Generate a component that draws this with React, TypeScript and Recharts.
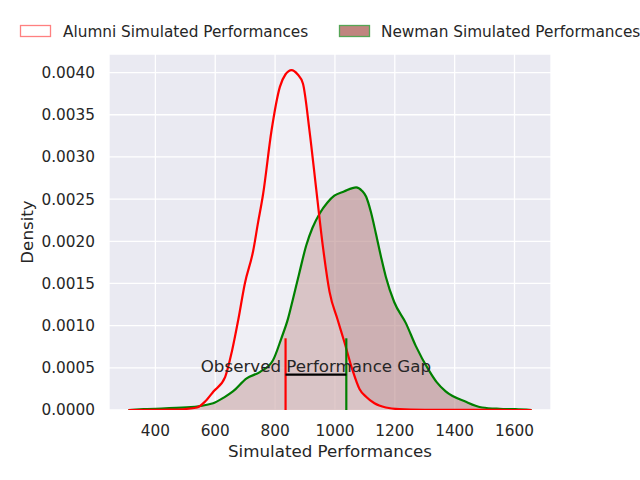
import {
  ComposedChart,
  Area,
  XAxis,
  YAxis,
  CartesianGrid,
  ReferenceLine,
  ReferenceDot,
} from "recharts";

// KDE curves
const alumniX = [
  310, 400, 450, 500, 539, 566, 594, 633, 656, 677, 699, 727, 742, 760, 788,
  816, 835, 855, 875, 893, 915, 938, 960, 982, 1009, 1032, 1059, 1082, 1104,
  1132, 1170, 1215, 1300, 1450, 1657,
];
const alumniDensity = [
  0, 0.000002, 0.000005, 0.000012, 0.00003, 0.0001, 0.00022, 0.00039, 0.0007,
  0.00107, 0.0015, 0.00189, 0.0022, 0.00256, 0.00331, 0.00383, 0.00398,
  0.00403, 0.00398, 0.00387, 0.00331, 0.0026, 0.00193, 0.0014, 0.00107, 0.0008,
  0.00047, 0.00025, 0.000157, 0.00008, 0.00003, 0.00001, 0.000003, 0.000001, 0,
];

const newmanX = [
  310, 361, 505, 593, 630, 659, 705, 749, 793, 821, 843, 860, 880, 904, 925,
  949, 975, 998, 1030, 1071, 1090, 1104, 1120, 1137, 1155, 1170, 1198, 1237,
  1270, 1314, 1340, 1370, 1436, 1492, 1550, 1603, 1657,
];
const newmanDensity = [
  0, 0.00001, 0.00003, 0.00008, 0.00015, 0.00022, 0.000375, 0.00045, 0.00059,
  0.00085, 0.00108, 0.00132, 0.00161, 0.00195, 0.00216, 0.00233, 0.00246,
  0.00254, 0.00259, 0.00264, 0.0026, 0.00253, 0.00235, 0.00209, 0.0018,
  0.00158, 0.00128, 0.00103, 0.00076, 0.00047, 0.00033, 0.00022, 0.0001,
  0.00003, 0.000015, 0.00001, 0,
];

const xTicks = [400, 600, 800, 1000, 1200, 1400, 1600];
const yTicks = [
  0, 0.0005, 0.001, 0.0015, 0.002, 0.0025, 0.003, 0.0035, 0.004,
];

// observed gap annotation
const gapStart = 835;
const gapEnd = 1038;
const gapBarTop = 0.00085;
const gapLineY = 0.00042;
const gapLabel = "Observed Performance Gap";
const gapLabelY = 0.00045;

const alumniData = alumniX.map((x, i) => ({ x, density: alumniDensity[i] }));
const newmanData = newmanX.map((x, i) => ({ x, density: newmanDensity[i] }));

const TEXT = "#262626";
const RED = "#ff0000";
const GREEN = "#008000";

export default function App() {
  return (
    <div
      style={{
        position: "absolute",
        left: 0,
        top: 0,
        width: 640,
        height: 480,
        background: "#fff",
        fontFamily: "DejaVu Sans",
      }}
    >
      <ComposedChart
        width={640}
        height={480}
        margin={{ top: 54, right: 89, bottom: 0, left: 9 }}
      >
        <CartesianGrid fill="#eaeaf2" stroke="#ffffff" strokeWidth={1.3} />
        <XAxis
          dataKey="x"
          type="number"
          domain={[245, 1722]}
          ticks={xTicks}
          allowDataOverflow
          height={70}
          axisLine={false}
          tickLine={false}
          tickSize={0}
          tickMargin={15}
          tick={{ fill: TEXT, fontSize: 15.3 }}
          label={() => (
            <text x={330} y={457} textAnchor="middle" fill={TEXT} fontSize={16.7}>
              Simulated Performances
            </text>
          )}
        />
        <YAxis
          type="number"
          domain={[0, 0.00422]}
          ticks={yTicks}
          allowDataOverflow
          width={100}
          axisLine={false}
          tickLine={false}
          tickSize={0}
          tickMargin={14}
          tick={{ fill: TEXT, fontSize: 15.3 }}
          tickFormatter={(v: number) => v.toFixed(4)}
          label={() => (
            <text
              x={33}
              y={232}
              transform="rotate(-90 33 232)"
              textAnchor="middle"
              fill={TEXT}
              fontSize={16.7}
            >
              Density
            </text>
          )}
        />
        {/* fills first, so the outlines stay solid on top */}
        <Area
          data={newmanData}
          dataKey="density"
          type="monotone"
          stroke="none"
          fill="#bc8f8f"
          fillOpacity={0.63}
          isAnimationActive={false}
          dot={false}
          activeDot={false}
        />
        <Area
          data={alumniData}
          dataKey="density"
          type="monotone"
          stroke="none"
          fill="#ffffff"
          fillOpacity={0.25}
          isAnimationActive={false}
          dot={false}
          activeDot={false}
        />
        <Area
          data={newmanData}
          dataKey="density"
          type="monotone"
          stroke={GREEN}
          strokeWidth={2.2}
          fill="none"
          isAnimationActive={false}
          dot={false}
          activeDot={false}
        />
        <Area
          data={alumniData}
          dataKey="density"
          type="monotone"
          stroke={RED}
          strokeWidth={2.2}
          fill="none"
          isAnimationActive={false}
          dot={false}
          activeDot={false}
        />
        <ReferenceLine
          segment={[
            { x: gapStart, y: 0 },
            { x: gapStart, y: gapBarTop },
          ]}
          stroke={RED}
          strokeWidth={2.2}
        />
        <ReferenceLine
          segment={[
            { x: gapEnd, y: 0 },
            { x: gapEnd, y: gapBarTop },
          ]}
          stroke={GREEN}
          strokeWidth={2.2}
        />
        <ReferenceLine
          segment={[
            { x: gapStart, y: gapLineY },
            { x: gapEnd, y: gapLineY },
          ]}
          stroke="#000000"
          strokeWidth={2.2}
        />
        <ReferenceDot
          x={(gapStart + gapEnd) / 2}
          y={gapLabelY}
          r={0}
          fill="none"
          stroke="none"
          label={(props: any) => {
            const vb = props.viewBox || {};
            return (
              <text
                x={vb.x + (vb.width || 0) / 2}
                y={vb.y + (vb.height || 0) / 2}
                textAnchor="middle"
                fill={TEXT}
                fontSize={16.7}
              >
                {gapLabel}
              </text>
            );
          }}
        />
      </ComposedChart>
      <svg
        width={640}
        height={50}
        style={{ position: "absolute", left: 0, top: 0, pointerEvents: "none" }}
      >
        <rect x={20.5} y={25.5} width={30} height={11} fill="#ffffff" stroke="#ff8080" strokeWidth={1.3} />
        <text x={63} y={37} fill={TEXT} fontSize={15.3}>
          Alumni Simulated Performances
        </text>
        <rect x={339.5} y={25.5} width={30} height={11} fill="#c0857f" stroke="#55a555" strokeWidth={1.3} />
        <text x={381} y={37} fill={TEXT} fontSize={15.3}>
          Newman Simulated Performances
        </text>
      </svg>
    </div>
  );
}
